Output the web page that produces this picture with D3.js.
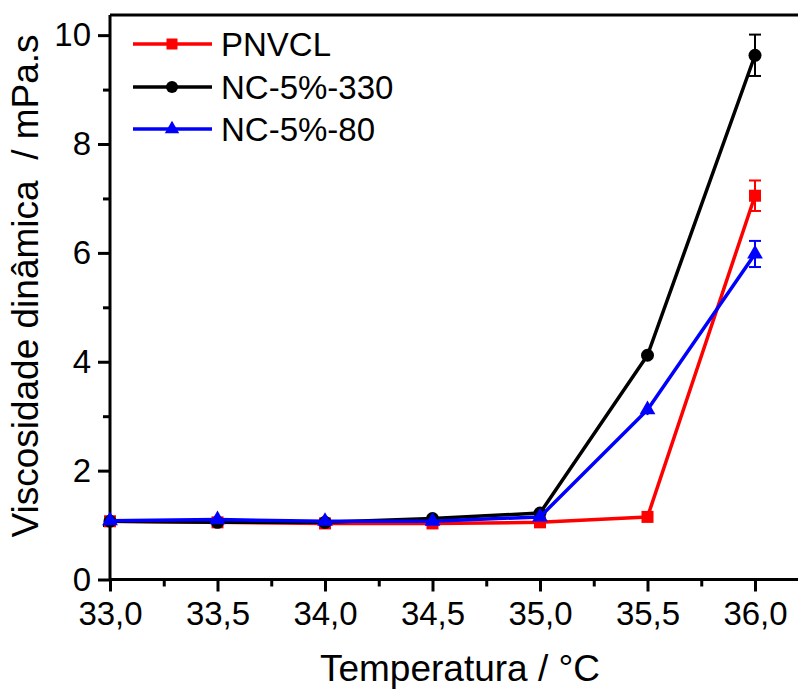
<!DOCTYPE html>
<html><head><meta charset="utf-8">
<script src="https://cdn.jsdelivr.net/npm/d3@7/dist/d3.min.js"></script>
<style>body{margin:0;background:#fff}svg{display:block}text{font-family:"Liberation Sans",Arial,sans-serif;fill:#000}</style>
</head><body><svg id="c" width="798" height="689"></svg>
<script>
const temps = [33.0, 33.5, 34.0, 34.5, 35.0, 35.5, 36.0];
const pnvcl = [1.07, 1.05, 1.03, 1.03, 1.05, 1.15, 7.05];
const nc330 = [1.07, 1.05, 1.05, 1.12, 1.22, 4.12, 9.63];
const nc80  = [1.08, 1.10, 1.07, 1.07, 1.15, 3.12, 5.98];
const errPnvcl = [0.04, 0.04, 0.04, 0.04, 0.04, 0.05, 0.28];
const errNc330 = [0.04, 0.04, 0.04, 0.04, 0.04, 0.05, 0.38];
const errNc80  = [0.04, 0.05, 0.04, 0.05, 0.05, 0.10, 0.24];
const seriesNames = ["PNVCL", "NC-5%-330", "NC-5%-80"];
const seriesColors = ["#ff0000", "#000000", "#0000ff"];
const seriesShapes = ["square", "circle", "triangle"];
const xTickVals = [33.0, 33.5, 34.0, 34.5, 35.0, 35.5, 36.0];
const yTickVals = [0, 2, 4, 6, 8, 10];
const xTitle = "Temperatura / °C";
const yTitle = "Viscosidade dinâmica  / mPa.s";

const svg = d3.select("#c");
const x = d3.scaleLinear().domain([33, 36.2]).range([110, 798]);
const y = d3.scaleLinear().domain([0, 10.37]).range([579.5, 15]);
const fmt = d => d.toFixed(1).replace(".", ",");

// frame
svg.append("line").attr("x1", 110).attr("x2", 800).attr("y1", y(10.37)).attr("y2", y(10.37))
  .attr("stroke", "#000").attr("stroke-width", 3);

// axes
const xAxis = svg.append("g").attr("transform", `translate(0,${y(0)})`)
  .call(d3.axisBottom(x).tickValues(xTickVals).tickFormat(fmt).tickSize(12).tickPadding(10));
const xMinor = svg.append("g").attr("transform", `translate(0,${y(0)})`)
  .call(d3.axisBottom(x).tickValues(d3.range(33.25, 36.3, 0.5)).tickFormat("").tickSize(7));
const yAxis = svg.append("g").attr("transform", `translate(${x(33)},0)`)
  .call(d3.axisLeft(y).tickValues(yTickVals).tickFormat(d3.format("d")).tickSize(12).tickPadding(7));
const yMinor = svg.append("g").attr("transform", `translate(${x(33)},0)`)
  .call(d3.axisLeft(y).tickValues([1, 3, 5, 7, 9]).tickFormat("").tickSize(7));
[xAxis, xMinor, yAxis, yMinor].forEach(g => {
  g.select(".domain").attr("stroke-width", 3).attr("stroke", "#000");
  g.selectAll(".tick line").attr("stroke-width", 3).attr("stroke", "#000");
  g.selectAll("text").attr("font-size", 33).attr("fill", "#000")
    .attr("font-family", "'Liberation Sans', Arial, sans-serif");
});
xMinor.select(".domain").remove();
yMinor.select(".domain").remove();
yAxis.select(".domain").attr("d", `M0,${y(0)}V${y(10.37)}`);
xAxis.select(".domain").attr("d", `M${x(33)},0H800`);

// titles
svg.append("text").attr("x", 460).attr("y", 681).attr("text-anchor", "middle")
  .attr("font-size", 37).text(xTitle);
svg.append("text").attr("transform", "translate(38,286) rotate(-90)").attr("text-anchor", "middle")
  .attr("font-size", 37).style("white-space", "pre").attr("xml:space", "preserve").text(yTitle);

const data = [pnvcl, nc330, nc80];
const errs = [errPnvcl, errNc330, errNc80];

function drawMarker(g, shape, cx, cy, size, color) {
  if (shape === "square") {
    g.append("rect").attr("x", cx - size / 2).attr("y", cy - size / 2).attr("width", size).attr("height", size).attr("fill", color);
  } else if (shape === "circle") {
    g.append("circle").attr("cx", cx).attr("cy", cy).attr("r", size / 2 + 0.5).attr("fill", color);
  } else {
    const s = d3.symbol().type(d3.symbolTriangle).size(size * size * 0.75);
    g.append("path").attr("d", s()).attr("transform", `translate(${cx},${cy})`).attr("fill", color);
  }
}

const line = d3.line().x(d => x(d[0])).y(d => y(d[1]));
data.forEach((vals, i) => {
  const g = svg.append("g");
  const pts = temps.map((t, j) => [t, vals[j]]);
  g.append("path").attr("d", line(pts)).attr("fill", "none")
    .attr("stroke", seriesColors[i]).attr("stroke-width", 3.5).attr("stroke-linejoin", "round");
  pts.forEach((p, j) => {
    const e = errs[i][j];
    const cx = x(p[0]);
    g.append("line").attr("x1", cx).attr("x2", cx).attr("y1", y(p[1] - e)).attr("y2", y(p[1] + e))
      .attr("stroke", seriesColors[i]).attr("stroke-width", 2);
    if (e > 0.1) {
      [p[1] - e, p[1] + e].forEach(v => g.append("line").attr("x1", cx - 6).attr("x2", cx + 6)
        .attr("y1", y(v)).attr("y2", y(v)).attr("stroke", seriesColors[i]).attr("stroke-width", 2));
    }
    drawMarker(g, seriesShapes[i], cx, y(p[1]), 12, seriesColors[i]);
  });
});

// legend
const legY = [44, 87, 129];
seriesNames.forEach((n, i) => {
  const g = svg.append("g");
  g.append("line").attr("x1", 133).attr("x2", 212).attr("y1", legY[i]).attr("y2", legY[i])
    .attr("stroke", seriesColors[i]).attr("stroke-width", 3.5);
  drawMarker(g, seriesShapes[i], 172, legY[i], 11, seriesColors[i]);
  g.append("text").attr("x", 221).attr("y", legY[i] + 12).attr("font-size", 33).text(n);
});
</script></body></html>
